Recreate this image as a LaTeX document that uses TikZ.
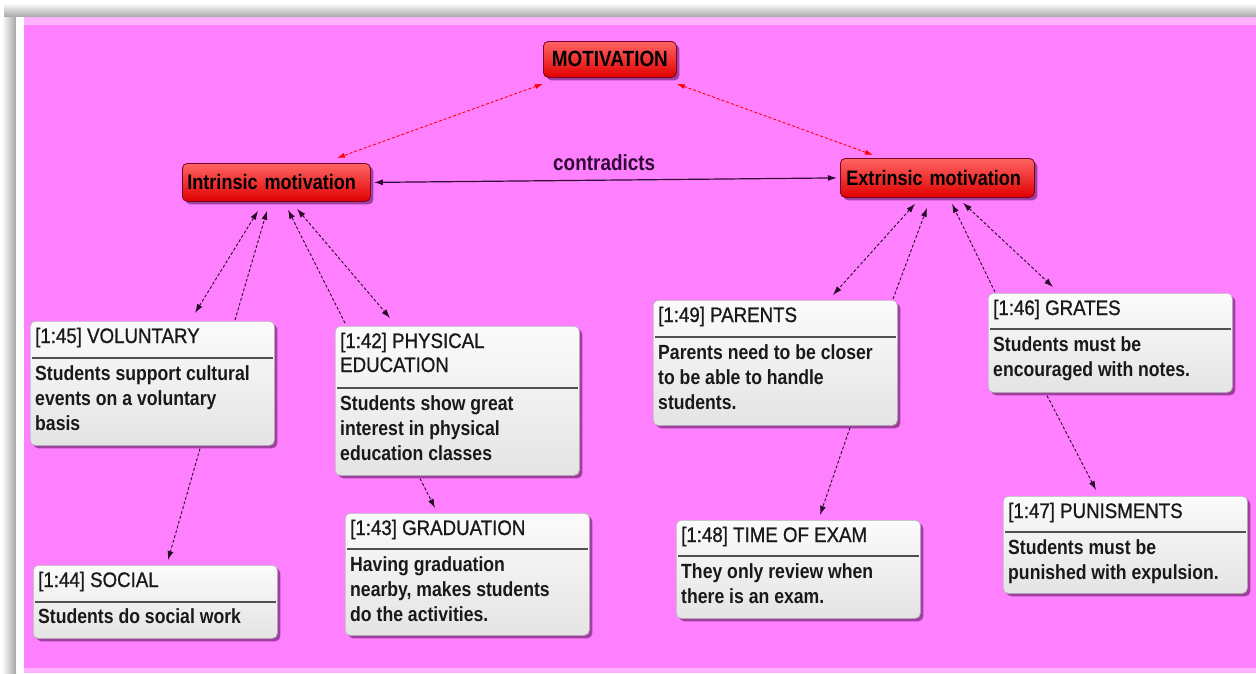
\documentclass[tikz,border=0pt]{standalone}
\usepackage{fontspec}
\setmainfont{Liberation Sans}
\newfontfamily\cardfont[FakeStretch=0.86]{Liberation Sans}
\newfontfamily\hdrfont[FakeStretch=0.89,FakeBold=0.9]{Liberation Sans}
\usetikzlibrary{arrows.meta,shadows,calc}

\definecolor{bgpink}{RGB}{255,128,255}
\definecolor{lightpink}{RGB}{255,178,255}
\definecolor{linkc}{RGB}{40,10,40}
\definecolor{contrc}{RGB}{50,10,55}
\definecolor{redtop}{RGB}{255,100,100}
\definecolor{redbot}{RGB}{225,0,0}
\definecolor{redborder}{RGB}{120,0,40}
\definecolor{shadowc}{RGB}{80,15,80}
\definecolor{cardtop}{RGB}{251,251,251}
\definecolor{cardbot}{RGB}{228,228,228}
\definecolor{cardedge}{RGB}{185,185,185}
\definecolor{divc}{RGB}{80,80,80}

\newcommand\cardpar[1]{\parbox[t]{238pt}{\raggedright #1}}

\begin{document}
\begin{tikzpicture}[x=1pt,y=-1pt,
  card/.style={draw=cardedge, line width=0.6pt, rounded corners=5pt,
    top color=cardtop, bottom color=cardbot, minimum width=244pt,
    anchor=north west, inner sep=0pt,
    drop shadow={shadow xshift=3pt, shadow yshift=-3pt, fill=shadowc, opacity=0.55}},
  hdr/.style={anchor=base west, inner sep=0pt, text=black!90,
    font=\hdrfont\fontsize{21}{24}\selectfont},
  body/.style={anchor=base west, inner sep=0pt, text=black!90,
    font=\cardfont\bfseries\fontsize{20.5}{25}\selectfont},
  divider/.style={draw=divc, line width=1.1pt},
  redbox/.style={draw=redborder, line width=0.8pt, rounded corners=5pt,
    top color=redtop, bottom color=redbot, anchor=north west, inner ysep=0pt,
    font=\cardfont\bfseries\fontsize{21}{24}\selectfont, text=black,
    drop shadow={shadow xshift=3pt, shadow yshift=-3pt, fill=shadowc, opacity=0.55}},
  dlink/.style={draw=linkc, line width=0.9pt, dash pattern=on 3pt off 2pt},
  rlink/.style={draw=red, line width=0.9pt, dash pattern=on 3pt off 2pt},
  slink/.style={draw=contrc, line width=1.2pt},
  tip/.tip={Latex[length=9pt,width=6pt]},
  rtip/.tip={Latex[length=8pt,width=5pt]}
]
\useasboundingbox (0,0) rectangle (1256,673);
% background
\fill[white] (0,0) rectangle (1256,673);
\shade[top color=white, bottom color=gray!70] (4,3) rectangle (1256,17);
\shade[left color=white, right color=gray!70] (2,17) rectangle (16,673);
\fill[white] (16,17) rectangle (24,673);
\fill[lightpink] (24,17) rectangle (1256,25);
\fill[bgpink] (24,25) rectangle (1256,668);
\fill[lightpink] (24,668) rectangle (1256,673);

% top nodes
\node[redbox, minimum width=133pt, minimum height=36pt, inner xsep=0pt,
  font=\cardfont\bfseries\fontsize{22}{24}\selectfont] (mot) at (543,41) {MOTIVATION};
\node[redbox, minimum height=38pt, text width=178pt, inner xsep=5pt, align=left] (intr) at (182,163) {Intrinsic motivation};
\node[redbox, minimum height=39pt, text width=182pt, inner xsep=6pt, align=left] (extr) at (840,158) {Extrinsic motivation};
\node[anchor=base west, inner sep=0pt, text=contrc,
  font=\cardfont\bfseries\fontsize{22}{24}\selectfont] (contr) at (553,170) {contradicts};

% cards
\node[card, minimum height=124pt] (vol) at (30,321) {};
\node[card, minimum height=149pt] (phys) at (335,326) {};
\node[card, minimum height=122pt] (grad) at (345,513) {};
\node[card, minimum height=73pt] (soc) at (33,565) {};
\node[card, minimum height=125pt] (par) at (653,300) {};
\node[card, minimum height=98pt] (exam) at (676,520) {};
\node[card, minimum height=99pt] (grat) at (988,293) {};
\node[card, minimum height=97pt] (pun) at (1003,496) {};

\foreach \c/\d in {vol/37, phys/62, grad/36, soc/37, par/37, exam/36, grat/36, pun/36}
  \draw[divider] ($(\c.north west)+(2,\d)$) -- ($(\c.north east)+(-2,\d)$);

\node[hdr] (volh) at ($(vol.north west)+(5,22)$) {\cardpar{[1:45] VOLUNTARY}};
\node[body] (volb) at ($(vol.north west)+(5,59)$) {\cardpar{Students support cultural\\events on a voluntary\\basis}};
\node[hdr] (physh) at ($(phys.north west)+(5,22)$) {\cardpar{[1:42] PHYSICAL\\EDUCATION}};
\node[body] (physb) at ($(phys.north west)+(5,84)$) {\cardpar{Students show great\\interest in physical\\education classes}};
\node[hdr] (gradh) at ($(grad.north west)+(5,22)$) {\cardpar{[1:43] GRADUATION}};
\node[body] (gradb) at ($(grad.north west)+(5,58)$) {\cardpar{Having graduation\\nearby, makes students\\do the activities.}};
\node[hdr] (soch) at ($(soc.north west)+(5,22)$) {\cardpar{[1:44] SOCIAL}};
\node[body] (socb) at ($(soc.north west)+(5,58)$) {\cardpar{Students do social work}};
\node[hdr] (parh) at ($(par.north west)+(5,22)$) {\cardpar{[1:49] PARENTS}};
\node[body] (parb) at ($(par.north west)+(5,59)$) {\cardpar{Parents need to be closer\\to be able to handle\\students.}};
\node[hdr] (examh) at ($(exam.north west)+(5,22)$) {\cardpar{[1:48] TIME OF EXAM}};
\node[body] (examb) at ($(exam.north west)+(5,58)$) {\cardpar{They only review when\\there is an exam.}};
\node[hdr] (grath) at ($(grat.north west)+(5,22)$) {\cardpar{[1:46] GRATES}};
\node[body] (gratb) at ($(grat.north west)+(5,58)$) {\cardpar{Students must be\\encouraged with notes.}};
\node[hdr] (punh) at ($(pun.north west)+(5,22)$) {\cardpar{[1:47] PUNISMENTS}};
\node[body] (punb) at ($(pun.north west)+(5,58)$) {\cardpar{Students must be\\punished with expulsion.}};

% connectors
\draw[rlink, rtip-rtip] ($(mot.south west)+(0,6)$) -- ($(intr.north west)+(155,-5)$);
\draw[rlink, rtip-rtip] ($(mot.south east)+(0,6)$) -- ($(extr.north west)+(33,-3)$);
\draw[slink, tip-tip] ($(intr.east)+(3,0)$) -- ($(extr.west)+(-3,0)$);

\draw[dlink, tip-tip] ($(intr.south west)+(76,9)$) -- ($(vol.north west)+(165,-8)$);
\draw[dlink, -tip] ($(vol.north west)+(205,-1)$) -- ($(intr.south west)+(85,9)$);
\draw[dlink, -tip] ($(phys.north west)+(10,-3)$) -- ($(intr.south west)+(106,8)$);
\draw[dlink, tip-tip] ($(intr.south west)+(115,7)$) -- ($(phys.north west)+(55,-8)$);
\draw[dlink, -tip] ($(vol.south west)+(170,3)$) -- ($(soc.north west)+(135,-5)$);
\draw[dlink, -tip] ($(phys.south west)+(85,3)$) -- ($(grad.north west)+(90,-5)$);

\draw[dlink, tip-tip] ($(extr.south west)+(75,6)$) -- ($(par.north west)+(180,-5)$);
\draw[dlink, -tip] ($(par.north west)+(240,-1)$) -- ($(extr.south west)+(87,10)$);
\draw[dlink, -tip] ($(grat.north west)+(7,-1)$) -- ($(extr.south west)+(112,6)$);
\draw[dlink, tip-tip] ($(extr.south west)+(123,5)$) -- ($(grat.north west)+(65,-6)$);
\draw[dlink, -tip] ($(par.south west)+(197,2)$) -- ($(exam.north west)+(144,-5)$);
\draw[dlink, -tip] ($(grat.south west)+(59,3)$) -- ($(pun.north west)+(93,-6)$);
\end{tikzpicture}
\end{document}
